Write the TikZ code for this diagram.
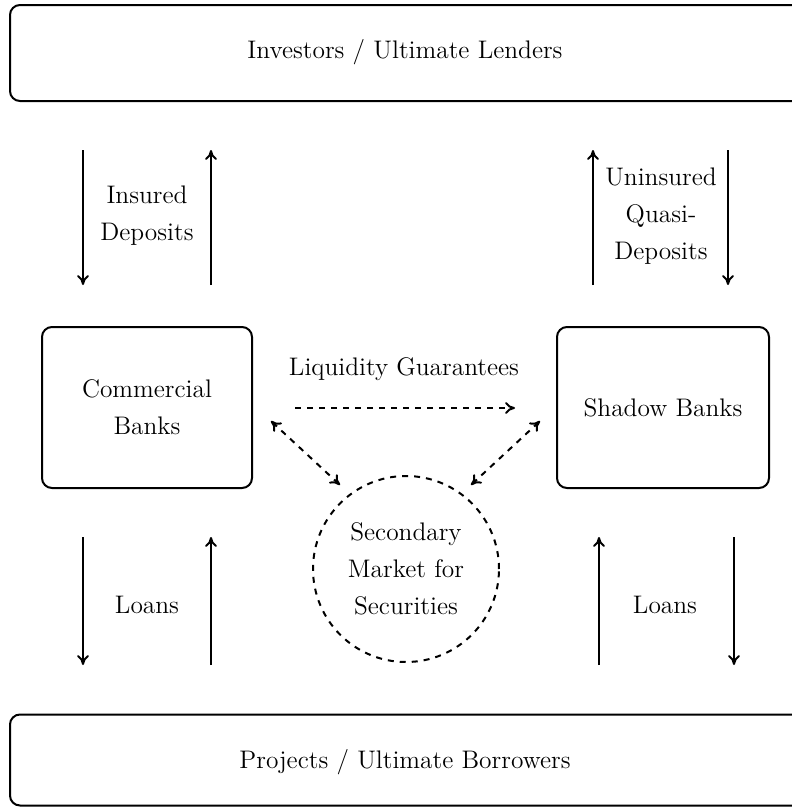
\documentclass[tikz,border=0pt]{standalone}
\usetikzlibrary{arrows.meta}
\begin{document}
\begin{tikzpicture}[x=0.5pt,y=-0.5pt, line width=1pt,
  every node/.style={font=\fontsize{12.7}{18.5}\selectfont, align=center, inner sep=0pt, outer sep=0pt},
  bigbox/.style={draw, rounded corners=5pt, minimum width=398pt},
  bankbox/.style={draw, rounded corners=5pt, minimum height=80.5pt},
  market/.style={draw, dashed, circle, minimum size=93pt},
  flow/.style={-{To[length=5pt,width=6pt]}},
  dflow/.style={dashed, -{To[length=5pt,width=6pt]}},
  ddflow/.style={dashed, {To[length=5pt,width=6pt]}-{To[length=5pt,width=6pt]}},
  lbl/.style={}]
\useasboundingbox (0,0) rectangle (792,809);
\clip (0,0) rectangle (792,809);

\node[bigbox, minimum height=48pt] (inv) at (408,53) {};
\node[lbl] (invt) at (405,52) {Investors / Ultimate Lenders};
\node[bigbox, minimum height=45.5pt] (proj) at (408,760) {};
\node[lbl] (projt) at (405,762) {Projects / Ultimate Borrowers};
\node[bankbox, minimum width=105pt] (cb) at (147,407.5) {Commercial\\Banks};
\node[bankbox, minimum width=106pt] (sb) at (663,407.5) {Shadow Banks};
\node[market] (sm) at (406,569) {Secondary\\Market for\\Securities};

\node[lbl] (l1) at (147,216) {Insured\\Deposits};
\node[lbl] (l2) at (661,216) {Uninsured\\Quasi-\\Deposits};
\node[lbl] (l3) at (147,605) {Loans};
\node[lbl] (l4) at (665,605) {Loans};
\node[lbl] (l5) at (404,369) {Liquidity Guarantees};

% top-left
\coordinate (a1) at (83,150);  \coordinate (a2) at (83,285);
\coordinate (b1) at (211,285); \coordinate (b2) at (211,150);
% top-right
\coordinate (c1) at (593,285); \coordinate (c2) at (593,150);
\coordinate (d1) at (728,150); \coordinate (d2) at (728,285);
% bottom-left
\coordinate (e1) at (83,537);  \coordinate (e2) at (83,665);
\coordinate (f1) at (211,665); \coordinate (f2) at (211,537);
% bottom-right
\coordinate (g1) at (599,665); \coordinate (g2) at (599,537);
\coordinate (h1) at (734,537); \coordinate (h2) at (734,665);
% dashed
\coordinate (lg1) at (295,408); \coordinate (lg2) at (515,408);
\coordinate (dl1) at (271,421); \coordinate (dl2) at (340,485);
\coordinate (dr1) at (540,421); \coordinate (dr2) at (471,485);

\draw[flow] (a1) -- (a2);
\draw[flow] (b1) -- (b2);
\draw[flow] (c1) -- (c2);
\draw[flow] (d1) -- (d2);
\draw[flow] (e1) -- (e2);
\draw[flow] (f1) -- (f2);
\draw[flow] (g1) -- (g2);
\draw[flow] (h1) -- (h2);
\draw[dflow] (lg1) -- (lg2);
\draw[ddflow] (dl1) -- (dl2);
\draw[ddflow] (dr1) -- (dr2);
\end{tikzpicture}
\end{document}
